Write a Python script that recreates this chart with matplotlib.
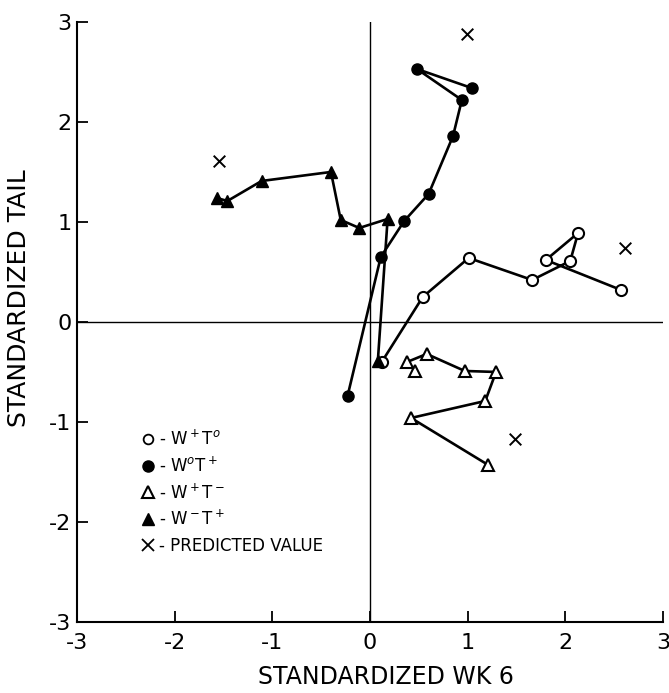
import matplotlib.pyplot as plt
from matplotlib.lines import Line2D

plt.rcParams['font.family'] = 'DejaVu Sans'
plt.rcParams['axes.unicode_minus'] = False

# W+ T0  (open circles)
wp_t0_x = [0.12, 0.54, 1.01, 1.66, 2.05, 2.13, 1.80, 2.57]
wp_t0_y = [-0.40, 0.25, 0.64, 0.42, 0.61, 0.89, 0.62, 0.32]

# W0 T+  (filled circles)
w0_tp_x = [-0.23, 0.11, 0.35, 0.60, 0.85, 0.94, 0.48, 1.04]
w0_tp_y = [-0.74, 0.65, 1.01, 1.28, 1.86, 2.22, 2.53, 2.34]

# W+ T-  (open triangles)
wp_tm_x = [0.46, 0.38, 0.58, 0.97, 1.29, 1.18, 0.42, 1.21]
wp_tm_y = [-0.49, -0.40, -0.32, -0.49, -0.50, -0.79, -0.96, -1.43]

# W- T+  (filled triangles)
wm_tp_x = [-1.57, -1.46, -1.11, -0.40, -0.30, -0.11, 0.18, 0.08]
wm_tp_y = [1.24, 1.21, 1.41, 1.50, 1.02, 0.94, 1.03, -0.39]

# predicted values
pred_x = [-1.55, 0.99, 2.61, 1.48]
pred_y = [1.61, 2.88, 0.74, -1.17]

ticks = [-3, -2, -1, 0, 1, 2, 3]

fig = plt.figure(figsize=(6.69, 6.93), dpi=100)
ax = fig.add_axes([0.1151, 0.1025, 0.876, 0.8658])

ax.axhline(0, color='black', lw=1.0, zorder=1)
ax.axvline(0, color='black', lw=1.0, zorder=1)

lw = 1.9
ms = 8
ax.plot(wp_t0_x, wp_t0_y, '-o', color='black', lw=lw, ms=ms, mfc='white', mec='black', mew=1.5, zorder=3)
ax.plot(w0_tp_x, w0_tp_y, '-o', color='black', lw=lw, ms=ms, zorder=3)
ax.plot(wp_tm_x, wp_tm_y, '-^', color='black', lw=lw, ms=ms + 1, mfc='white', mec='black', mew=1.5, zorder=3)
ax.plot(wm_tp_x, wm_tp_y, '-^', color='black', lw=lw, ms=ms + 1, zorder=3)
ax.scatter(pred_x, pred_y, marker='x', s=70, color='black', linewidths=1.4, zorder=3)

ax.set_xlim(-3, 3)
ax.set_ylim(-3, 3)
ax.set_xticks(ticks)
ax.set_yticks(ticks)
ax.spines['top'].set_visible(False)
ax.spines['right'].set_visible(False)
ax.spines['left'].set_linewidth(1.5)
ax.spines['bottom'].set_linewidth(1.5)
ax.tick_params(axis='both', direction='in', length=8, width=1.3, labelsize=16)
ax.tick_params(axis='x', pad=8)
ax.tick_params(axis='y', pad=4)

ax.set_xlabel('STANDARDIZED WK 6', fontsize=17)
ax.set_ylabel('STANDARDIZED TAIL', fontsize=18)
ax.xaxis.set_label_coords(0.527, -0.072)
ax.yaxis.set_label_coords(-0.078, 0.54)

handles = [
    Line2D([], [], ls='none', marker='o', ms=7, mfc='white', mec='black', mew=1.3),
    Line2D([], [], ls='none', marker='o', ms=8, color='black'),
    Line2D([], [], ls='none', marker='^', ms=8, mfc='white', mec='black', mew=1.5),
    Line2D([], [], ls='none', marker='^', ms=8, color='black'),
    Line2D([], [], ls='none', marker='x', ms=9, color='black', mew=1.3),
]
labels = [r'- W$^+$T$^o$', r'- W$^o$T$^+$', r'- W$^+$T$^-$', r'- W$^-$T$^+$', '- PREDICTED VALUE']
ax.legend(handles, labels, loc='upper left', bbox_to_anchor=(0.095, 0.335), frameon=False,
          fontsize=12, handlelength=0.8, handletextpad=0.3, labelspacing=0.45, borderpad=0)

fig.savefig('out.png', dpi=100)
